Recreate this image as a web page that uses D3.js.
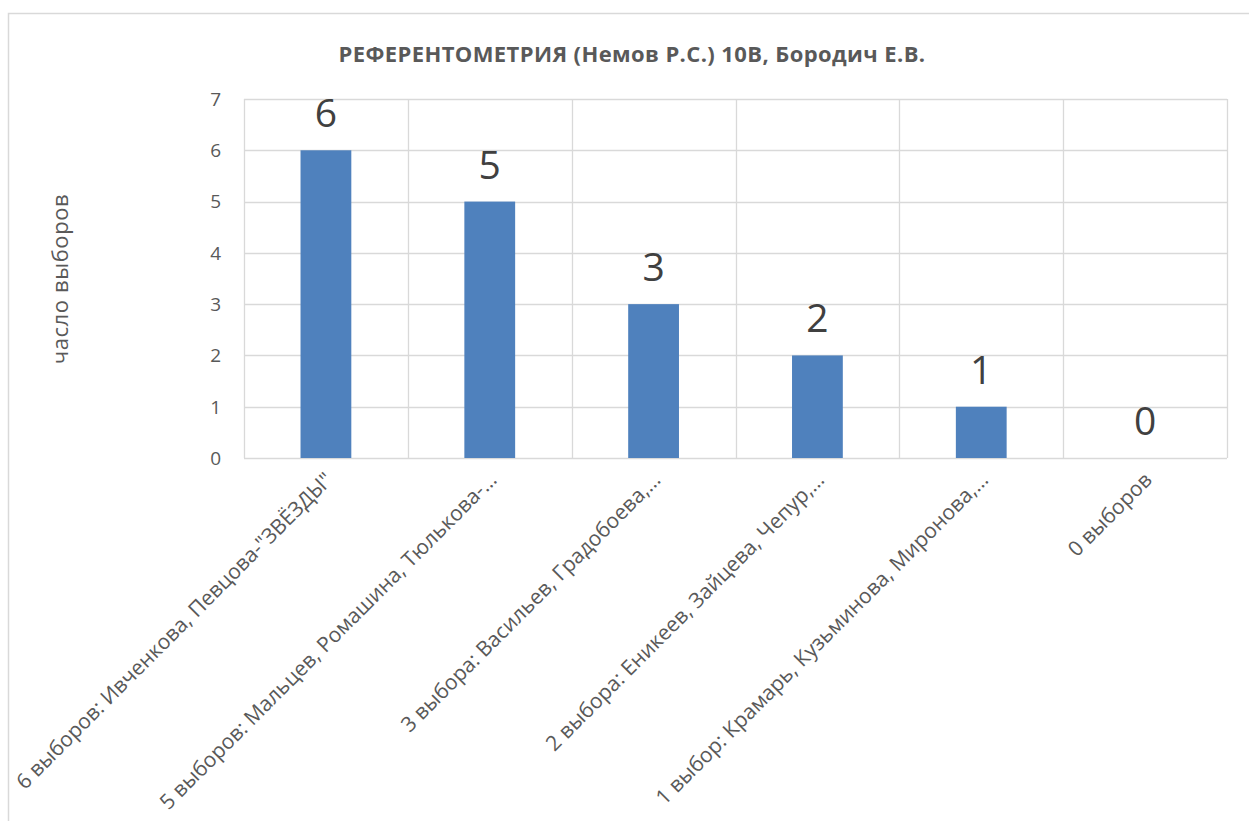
<!DOCTYPE html>
<html>
<head>
<meta charset="utf-8">
<script src="https://cdn.jsdelivr.net/npm/d3@7"></script>
<style>
  html, body { margin: 0; padding: 0; background: #ffffff; }
  svg { display: block; }
</style>
</head>
<body>
<script>
const categories = [
  '6 выборов: Ивченкова, Певцова-"ЗВЁЗДЫ"',
  '5 выборов: Мальцев, Ромашина, Тюлькова-…',
  '3 выбора: Васильев, Градобоева,…',
  '2 выбора: Еникеев, Зайцева, Чепур,…',
  '1 выбор: Крамарь, Кузьминова, Миронова,…',
  '0 выборов'
];
const values = [6, 5, 3, 2, 1, 0];
const yTicks = [0, 1, 2, 3, 4, 5, 6, 7];
const titleText = "РЕФЕРЕНТОМЕТРИЯ (Немов Р.С.) 10В, Бородич Е.В.";
const yAxisTitle = "часло выборов";

const W = 1249, H = 821;
const plot = { left: 244, right: 1227, top: 99, bottom: 458 };
const font = "'Open Sans', 'Segoe UI', sans-serif";

const svg = d3.select("body").append("svg").attr("width", W).attr("height", H);

// chart border
svg.append("rect")
  .attr("x", 8.5).attr("y", 13.5).attr("width", W + 10).attr("height", H + 10)
  .attr("fill", "#fff").attr("stroke", "#d9d9d9").attr("stroke-width", 1.5);

const x = d3.scaleBand().domain(categories).range([plot.left, plot.right]).paddingInner(0.69).paddingOuter(0.345);
const xb = d3.scaleBand().domain(categories).range([plot.left, plot.right]).padding(0);
const y = d3.scaleLinear().domain([0, 7]).range([plot.bottom, plot.top]);

// horizontal grid
svg.append("g").selectAll("line").data(yTicks).join("line")
  .attr("x1", plot.left).attr("x2", plot.right)
  .attr("y1", d => Math.round(y(d)) + 0.5).attr("y2", d => Math.round(y(d)) + 0.5)
  .attr("stroke", "#d9d9d9").attr("stroke-width", 1.3);

// vertical grid at category boundaries
const bounds = categories.map(c => xb(c)).concat([plot.right]);
svg.append("g").selectAll("line").data(bounds).join("line")
  .attr("x1", d => Math.round(d) + 0.5).attr("x2", d => Math.round(d) + 0.5)
  .attr("y1", plot.top).attr("y2", plot.bottom)
  .attr("stroke", "#d9d9d9").attr("stroke-width", 1.3);

// bars
svg.append("g").selectAll("rect").data(values).join("rect")
  .attr("x", (d, i) => x(categories[i]))
  .attr("width", x.bandwidth())
  .attr("y", d => y(d))
  .attr("height", d => y(0) - y(d))
  .attr("fill", "#4f81bd");

// data labels
svg.append("g").selectAll("text").data(values).join("text")
  .attr("x", (d, i) => x(categories[i]) + x.bandwidth() / 2)
  .attr("y", d => y(d) - 23)
  .attr("text-anchor", "middle")
  .attr("font-family", font).attr("font-size", 39)
  .attr("fill", "#404040")
  .text(d => d);

// y tick labels
svg.append("g").selectAll("text").data(yTicks).join("text")
  .attr("x", 221).attr("y", d => y(d))
  .attr("dy", "0.36em")
  .attr("text-anchor", "end")
  .attr("font-family", font).attr("font-size", 19)
  .attr("fill", "#595959")
  .text(d => d);

// category labels
svg.append("g").selectAll("text").data(categories).join("text")
  .attr("transform", d => `translate(${xb(d) + xb.bandwidth() / 2 + 3}, 476) rotate(-45)`)
  .attr("dy", "0.35em")
  .attr("text-anchor", "end")
  .attr("font-family", font).attr("font-size", 21)
  .attr("fill", "#595959")
  .text(d => d);

// y axis title
svg.append("text")
  .attr("transform", "translate(60, 279) rotate(-90)")
  .attr("dy", "0.35em")
  .attr("text-anchor", "middle")
  .attr("font-family", font).attr("font-size", 22).attr("letter-spacing", 0.6)
  .attr("fill", "#595959")
  .text(yAxisTitle);

// title
svg.append("text")
  .attr("x", 632).attr("y", 54)
  .attr("dy", "0.35em")
  .attr("text-anchor", "middle")
  .attr("font-family", font).attr("font-size", 22).attr("font-weight", "bold")
  .attr("letter-spacing", 0.4)
  .attr("fill", "#595959")
  .text(titleText);
</script>
</body>
</html>
